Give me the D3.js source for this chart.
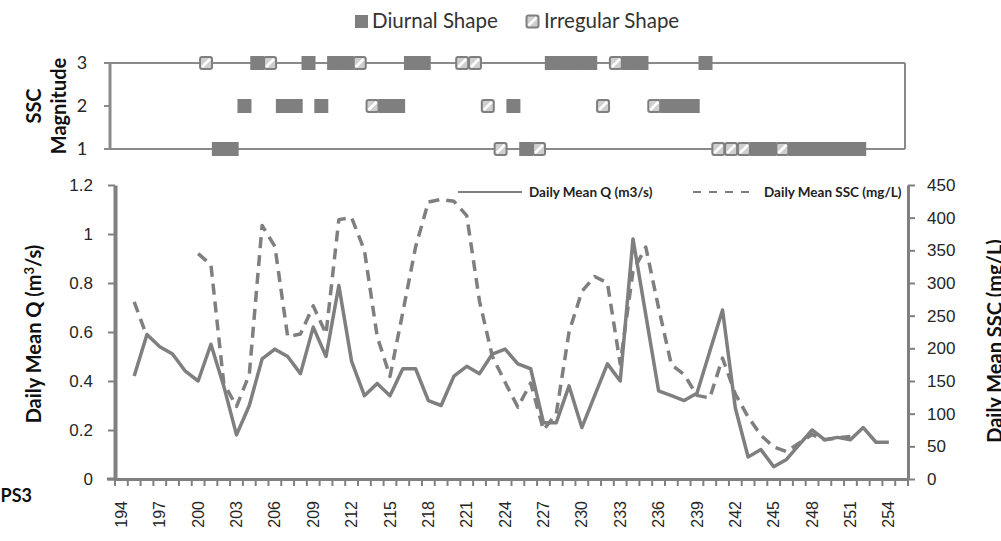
<!DOCTYPE html>
<html>
<head>
<meta charset="utf-8">
<script src="https://cdn.jsdelivr.net/npm/d3@7"></script>
<style>
	body { margin: 0; background: #fff; }
	svg { display: block; font-family: Lato, 'Open Sans', sans-serif; }
	.axis path, .axis line { stroke: #808080; }
	.axis text { fill: #262626; }
</style>
</head>
<body>
<div id="chart"></div>
<script>
// days on the category axis (last slot is empty)
const days = d3.range(194, 256);
const dayLabels = [194, 197, 200, 203, 206, 209, 212, 215, 218, 221, 224, 227, 230, 233, 236, 239, 242, 245, 248, 251, 254];

// daily mean discharge, days 195..254
const qDays = d3.range(195, 255);
const qValues = [
	0.42, 0.59, 0.54, 0.51, 0.44, 0.40, 0.55, 0.38, 0.18, 0.30,
	0.49, 0.53, 0.50, 0.43, 0.62, 0.50, 0.79, 0.48, 0.34, 0.39,
	0.34, 0.45, 0.45, 0.32, 0.30, 0.42, 0.46, 0.43, 0.51, 0.53,
	0.47, 0.45, 0.23, 0.23, 0.38, 0.21, 0.34, 0.47, 0.40, 0.98,
	0.67, 0.36, 0.34, 0.32, 0.35, 0.52, 0.69, 0.29, 0.09, 0.12,
	0.05, 0.08, 0.14, 0.20, 0.16, 0.17, 0.16, 0.21, 0.15, 0.15,
];

// daily mean SSC, days 195..254 (null = no sample)
const sscValues = [
	271, 218, null, null, null, 345, 328, 147, 111, 160,
	388, 356, 218, 222, 265, 222, 397, 400, 350, 218,
	157, 255, 355, 424, 428, 425, 403, 272, 188, 148,
	110, 147, 75, 100, 225, 287, 310, 300, 176, 318,
	355, 262, 175, 160, 128, 124, 185, 130, 95, 67,
	49, 42, 55, 68, 60, 63, 65, null, null, null,
];

// SSC magnitude events (day lists per magnitude)
const diurnal3 = [205, 209, 211, 212, 217, 218, 228, 229, 230, 231, 234, 235, 240];
const irregular3 = [201, 206, 213, 221, 222, 233];
const diurnal2 = [204, 207, 208, 210, 215, 216, 225, 237, 238, 239];
const irregular2 = [214, 223, 232, 236];
const diurnal1 = [202, 203, 226, 244, 245, 247, 248, 249, 250, 251, 252];
const irregular1 = [224, 227, 241, 242, 243, 246];

const qTicks = [0, 0.2, 0.4, 0.6, 0.8, 1, 1.2];
const sscTicks = [0, 50, 100, 150, 200, 250, 300, 350, 400, 450];

const grey = '#7f7f7f';

const svg = d3.select('#chart').append('svg')
	.attr('width', 1001)
	.attr('height', 541);

// ---------- top panel: SSC magnitude ----------
const xTop = d3.scaleBand().domain(days).range([110, 904]);
const yTop = d3.scaleLinear().domain([1, 3]).range([149, 63]);
const topPanel = svg.append('g');

topPanel.selectAll('.lvl')
	.data([1, 3])
	.enter().append('line')
		.attr('x1', 104)
		.attr('x2', 905)
		.attr('y1', d => yTop(d))
		.attr('y2', d => yTop(d))
		.attr('stroke', '#8a8a8a')
		.attr('stroke-width', 2);
topPanel.append('line')
	.attr('x1', 104).attr('x2', 110)
	.attr('y1', yTop(2)).attr('y2', yTop(2))
	.attr('stroke', '#8a8a8a').attr('stroke-width', 2);
topPanel.append('line')
	.attr('x1', 110).attr('x2', 110)
	.attr('y1', yTop(3)).attr('y2', yTop(1))
	.attr('stroke', '#8a8a8a').attr('stroke-width', 3);
topPanel.append('line')
	.attr('x1', 905).attr('x2', 905)
	.attr('y1', yTop(3)).attr('y2', yTop(1))
	.attr('stroke', '#8a8a8a').attr('stroke-width', 2);

topPanel.selectAll('.lvl-label')
	.data([1, 2, 3])
	.enter().append('text')
		.attr('x', 82)
		.attr('y', d => yTop(d))
		.attr('dy', '0.36em')
		.attr('text-anchor', 'middle')
		.style('font-size', '18px')
		.style('fill', '#262626')
		.text(d => d);

const rotTitle = topPanel.append('text')
	.attr('transform', 'translate(0, 106) rotate(-90)')
	.attr('text-anchor', 'middle')
	.style('font-size', '20px')
	.style('font-weight', 'bold')
	.style('fill', '#111');
rotTitle.append('tspan').attr('x', 0).attr('y', 41).text('SSC');
rotTitle.append('tspan').attr('x', 0).attr('y', 66).text('Magnitude');

const events = [];
[[diurnal1, 1], [diurnal2, 2], [diurnal3, 3]].forEach(([list, lvl]) => {
	list.forEach(d => events.push({ day: d, lvl, type: 'd' }));
});
[[irregular1, 1], [irregular2, 2], [irregular3, 3]].forEach(([list, lvl]) => {
	list.forEach(d => events.push({ day: d, lvl, type: 'i' }));
});

const cx = d => xTop(d) + xTop.bandwidth() / 2;
const mk = 14;

function drawIrregular(sel, x, y) {
	sel.append('rect')
		.attr('x', x - mk / 2 + 1)
		.attr('y', y - mk / 2 + 1)
		.attr('width', mk - 2)
		.attr('height', mk - 2)
		.attr('rx', 2)
		.attr('fill', '#cfcfcf')
		.attr('stroke', grey)
		.attr('stroke-width', 2);
	sel.append('line')
		.attr('x1', x - 4).attr('y1', y + 4)
		.attr('x2', x + 4).attr('y2', y - 4)
		.attr('stroke', '#fff')
		.attr('stroke-width', 2.5);
}

events.filter(e => e.type === 'd').forEach((e) => {
	topPanel.append('rect')
		.attr('x', cx(e.day) - mk / 2)
		.attr('y', yTop(e.lvl) - mk / 2)
		.attr('width', mk)
		.attr('height', mk)
		.attr('fill', grey);
});
events.filter(e => e.type === 'i').forEach((e) => {
	drawIrregular(topPanel, cx(e.day), yTop(e.lvl));
});

// top legend
const legTop = svg.append('g');
legTop.append('rect')
	.attr('x', 355).attr('y', 15).attr('width', 13).attr('height', 13)
	.attr('fill', grey);
legTop.append('text')
	.attr('x', 372).attr('y', 28)
	.style('font-size', '20.5px')
	.style('fill', '#333')
	.text('Diurnal Shape');
drawIrregular(legTop, 532.5, 21.5);
legTop.append('text')
	.attr('x', 544).attr('y', 28)
	.style('font-size', '20.5px')
	.style('fill', '#333')
	.text('Irregular Shape');

// ---------- bottom panel: Q and SSC ----------
const x = d3.scaleBand().domain(days).range([115, 908]);
const yQ = d3.scaleLinear().domain([0, 1.2]).range([479, 185]);
const yS = d3.scaleLinear().domain([0, 450]).range([479, 185]);
const xc = d => x(d) + x.bandwidth() / 2;

const qData = qDays.map((d, i) => ({ day: d, v: qValues[i] }));
const sData = qDays.map((d, i) => ({ day: d, v: sscValues[i] }));

const qLine = d3.line()
	.x(d => xc(d.day))
	.y(d => yQ(d.v));
const sLine = d3.line()
	.defined(d => d.v !== null)
	.x(d => xc(d.day))
	.y(d => yS(d.v));

svg.append('path')
	.datum(sData)
	.attr('d', sLine)
	.attr('fill', 'none')
	.attr('stroke', grey)
	.attr('stroke-width', 3.5)
	.attr('stroke-dasharray', '11,7')
	.attr('stroke-linejoin', 'round');
svg.append('path')
	.datum(qData)
	.attr('d', qLine)
	.attr('fill', 'none')
	.attr('stroke', grey)
	.attr('stroke-width', 3.5)
	.attr('stroke-linejoin', 'round');

// axes
const yAxisL = d3.axisLeft(yQ)
	.tickValues(qTicks)
	.tickFormat(d => d)
	.tickSize(7)
	.tickSizeOuter(0)
	.tickPadding(15);
const gL = svg.append('g')
	.attr('class', 'axis')
	.attr('transform', 'translate(115, 0)')
	.call(yAxisL);
gL.select('.domain').attr('stroke-width', 4);
gL.selectAll('line').attr('stroke-width', 2);
gL.selectAll('text').style('font-size', '17px');

const yAxisR = d3.axisRight(yS)
	.tickValues(sscTicks)
	.tickSize(7)
	.tickSizeOuter(0)
	.tickPadding(12);
const gR = svg.append('g')
	.attr('class', 'axis')
	.attr('transform', 'translate(908, 0)')
	.call(yAxisR);
gR.select('.domain').attr('stroke-width', 3);
gR.selectAll('line').attr('stroke-width', 2);
gR.selectAll('text').style('font-size', '17px');

const xAxis = d3.axisBottom(x)
	.tickValues(dayLabels)
	.tickSize(0)
	.tickSizeOuter(0);
const gX = svg.append('g')
	.attr('class', 'axis')
	.attr('transform', 'translate(0, 479)')
	.call(xAxis);
gX.select('.domain').attr('stroke-width', 3);
gX.selectAll('text')
	.attr('transform', 'rotate(-90)')
	.attr('text-anchor', 'end')
	.attr('x', -22)
	.attr('y', 0)
	.attr('dy', '0.35em')
	.style('font-size', '16px');

// tick marks at category boundaries
gX.selectAll('.bound')
	.data(days.concat([null]))
	.enter().append('line')
		.attr('x1', d => (d === null ? x.range()[1] : x(d)))
		.attr('x2', d => (d === null ? x.range()[1] : x(d)))
		.attr('y1', 0)
		.attr('y2', 7)
		.attr('stroke', '#808080')
		.attr('stroke-width', 2);
svg.append('line')
	.attr('x1', 107).attr('x2', 115)
	.attr('y1', 479).attr('y2', 479)
	.attr('stroke', '#808080').attr('stroke-width', 3);

// axis titles
svg.append('text')
	.attr('transform', 'translate(41, 334) rotate(-90)')
	.attr('text-anchor', 'middle')
	.style('font-size', '20px')
	.style('font-weight', 'bold')
	.style('fill', '#111')
	.html('Daily Mean Q (m<tspan dy="-7" font-size="13px">3</tspan><tspan dy="7">/s)</tspan>');
svg.append('text')
	.attr('transform', 'translate(1002, 341) rotate(-90)')
	.attr('text-anchor', 'middle')
	.style('font-size', '20px')
	.style('font-weight', 'bold')
	.style('fill', '#111')
	.text('Daily Mean SSC (mg/L)');
svg.append('text')
	.attr('x', 32).attr('y', 502)
	.attr('text-anchor', 'end')
	.style('font-size', '18px')
	.style('font-weight', 'bold')
	.style('fill', '#111')
	.text('PS3');

// line legend
const leg = svg.append('g');
leg.append('line')
	.attr('x1', 458).attr('x2', 522)
	.attr('y1', 192).attr('y2', 192)
	.attr('stroke', grey).attr('stroke-width', 2);
leg.append('text')
	.attr('x', 529).attr('y', 192).attr('dy', '0.35em')
	.style('font-size', '13.5px').style('font-weight', 'bold').style('fill', '#222')
	.text('Daily Mean Q (m3/s)');
leg.append('line')
	.attr('x1', 693).attr('x2', 757)
	.attr('y1', 192).attr('y2', 192)
	.attr('stroke', grey).attr('stroke-width', 2)
	.attr('stroke-dasharray', '8,8');
leg.append('text')
	.attr('x', 764).attr('y', 192).attr('dy', '0.35em')
	.style('font-size', '13.5px').style('font-weight', 'bold').style('fill', '#222')
	.text('Daily Mean SSC (mg/L)');
</script>
</body>
</html>
